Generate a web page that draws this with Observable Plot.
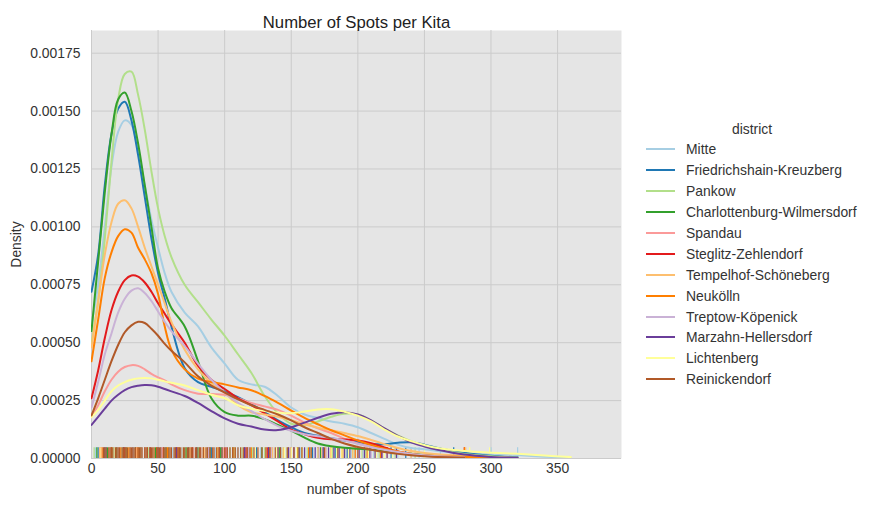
<!DOCTYPE html>
<html><head><meta charset="utf-8">
<script src="https://cdn.jsdelivr.net/npm/d3@7"></script>
<script src="https://cdn.jsdelivr.net/npm/@observablehq/plot@0.6"></script>
<style>
body{margin:0;background:#fff;font-family:"Liberation Sans",Arial,sans-serif;}
#wrap{position:relative;width:869px;height:510px;}
#legend{position:absolute;left:0;top:0;width:869px;height:510px;pointer-events:none;font-size:13.9px;color:#333;}
#legend .t{position:absolute;line-height:20px;white-space:nowrap;}
#legend .s{position:absolute;height:2px;width:29px;}
</style></head><body>
<div id="wrap"><div id="chart"></div><div id="legend"></div></div>
<script>
const districts = ["Mitte","Friedrichshain-Kreuzberg","Pankow","Charlottenburg-Wilmersdorf","Spandau","Steglitz-Zehlendorf","Tempelhof-Schöneberg","Neukölln","Treptow-Köpenick","Marzahn-Hellersdorf","Lichtenberg","Reinickendorf"];
const palette = ["#a6cee3","#1f78b4","#b2df8a","#33a02c","#fb9a99","#e31a1c","#fdbf6f","#ff7f00","#cab2d6","#6a3d9a","#ffff99","#b15928"];

// number of spots (x positions where density was read)
const grid = [0,5,10,15,20,25,30,35,40,45,50,55,60,70,80,90,100,110,120,130,140,150,160,170,180,190,200,210,220,230,240,250,260,280,300,320,340,360,380];

// density values, in units of 1e-5
const mitte = [58,75,100,126,141,146,144,133,118,103,91,80,72, 63,57,48,41,34,32,31,27,22,19,17.5,16,15,13.5,11,8.5,6,4.5,4,3.2, 2.2,2,1.5,0.8,0.3,null];
const friedrichshain = [72,88,118,140,151,154,146,131,113,95,80,69,57, 39,33,31,29,26.5,23.5,20,16.5,13.5,11,9.8,8.8,7.8,7,6.3,6.2,6.8,7,6,4.5, 2.5,1.2,0.5,null,null,null];
const pankow = [50,68,95,128,155,166,167,157,142,124,108,96,87, 75,67.5,60,53,45,37,27,19.5,15,14.5,16,18,19.3,19,16.5,13,10,7.5,5.5,4, 2,1,0.4,null,null,null];
const charlottenburg = [55,85,115,140,155,158,150,136,118,100,82,72,65, 57,42,26,20,18.5,18.5,17,14.5,12,9,6.5,5.3,4.6,4.2,3.8,3.2,2.6,2,1.5,1.1, 0.6,0.3,null,null,null,null];
const spandau = [18,23,29,34,37.5,39.5,40.3,40,38.5,36.5,35,33.7,32, 29.5,28,27.8,27.5,26,24,22.5,21,18.5,15.5,13,11,8.5,6.5,5,3.8,2.8,2,1.4,1, 0.4,null,null,null,null,null];
const steglitz = [26,38,52,64,72,77,79,78.5,76,72,67,62.5,58, 50,40,34,30,26,23,19.5,16,12.5,10.5,9,8.3,8.2,7.8,6.6,4.8,3,2,1.3,0.9, 0.4,null,null,null,null,null];
const tempelhof = [48,68,88,102,110,111.5,108,100,91,83,75,67,59, 47,38.5,32.5,28.5,23,20,19,18,16.5,14.8,13.3,12.2,11,9.7,8,6.2,4.5,3.2,2.4,1.8, 1.2,0.6,0.2,null,null,null];
const neukoelln = [42,60,78,89,96,99,97.5,91,86,80,71,57,47, 38.5,34.5,33,32,30.7,29.5,27,24,20.7,17.5,14.8,12.2,10,7.8,5.8,4.2,3,2,1.4,1, 0.8,0.3,null,null,null,null];
const treptow = [22,33,45,54,63,69,72.5,73.5,71.5,68,63.5,59,55, 48.5,41,34,28.5,24,20.5,17,14,12,10.5,9.6,8.8,7.8,6.3,5,3.8,2.8,2,1.4,1, 0.4,null,null,null,null,null];
const marzahn = [14.5,18,21.5,25,27.5,29.5,30.8,31.4,31.7,31.6,31,30,29, 27,24,20.5,17.3,15,13.8,12.5,12.3,13.5,15.5,17.6,19.3,20,19,16.5,13,9.8,7,5.2,3.8, 1.7,0.7,0.3,null,null,null];
const lichtenberg = [17.8,21,25,29,31.5,33,34,34.6,34.8,34.6,34,33.3,32.7, 31.5,29.5,27.5,26,23,21.5,20.5,19.8,19.5,20.3,21.2,21.3,20.2,18.5,16,12.5,9.5,7.5,5.8,4.5, 3.2,2.5,2,1.3,0.6,null];
const reinickendorf = [18.6,26,34,42,49,54.5,57.5,59,58.5,56,53,49.5,46.5, 41.5,35.5,31.5,28.5,25.5,23,21,19,16.5,13.5,11,8.5,6.5,5,3.8,2.8,2,1.4,1,0.7, 0.3,null,null,null,null,null];
const series = [mitte,friedrichshain,pankow,charlottenburg,spandau,steglitz,tempelhof,neukoelln,treptow,marzahn,lichtenberg,reinickendorf];

// rug: observed spots per kita
const rugMitte = [3,6,14,22,28,35,42,47,55,61,68,75,84,93,102,110,119,127,136,141,145,152,157,160,168,172,176,185,190,195,204,212,220,230,240,246,250,262,300,320];
const rugFriedrichshain = [5,11,17,24,31,37,44,52,58,66,73,81,90,98,107,115,124,133,142,150,158,166,174,183,192,203,214,225,236,272];
const rugPankow = [2,9,16,23,29,36,43,50,57,64,71,79,87,96,104,113,121,130,139,144,147,156,162,164,172,178,181,189,197,206,216,228,243];
const rugCharlottenburg = [4,12,19,26,33,40,48,56,63,71,80,89,97,106,117,128,141,155,172,190];
const rugSpandau = [8,18,29,40,53,66,82,99,117,135,154,176,198,222];
const rugSteglitz = [7,15,25,34,44,54,64,76,88,101,116,132,150,170,193,218,280];
const rugTempelhof = [6,13,21,27,34,41,49,57,66,75,85,95,106,118,131,136,144,150,158,165,173,180,189,196,205,213,222,240,281];
const rugNeukoelln = [8,15,22,28,35,42,49,57,65,74,84,95,107,120,134,140,148,155,163,170,180,188,198,207,217,280];
const rugTreptow = [9,20,31,41,52,63,75,88,102,118,135,152,171,190,210];
const rugMarzahn = [10,24,37,50,64,79,96,115,133,140,148,152,156,160,164,168,170,174,178,182,186,190,194,197,201,205,209,213,218,222,229];
const rugLichtenberg = [7,17,27,37,47,58,69,81,94,108,123,139,145,150,154,158,165,170,175,180,184,188,193,197,203,208,214,220,226,250,284,299];
const rugReinickendorf = [9,10,11,13,14,15,16,18,19,20,21,23,24,25,26,27,29,30,31,32,33,35,36,37,38,40,41,42,44,45,46,47,49,50,51,52,54,55,56,58,59,60,62,63,65,66,67,69,70,72,73,75,76,78,79,81,82,84,86,87,89,91,92,94,96,98,100,102,104,106,108,110,112,114,117,119,122,125,128,131,134,138,142,147,152,158,165,175,185,200];
const rugs = [rugMitte,rugFriedrichshain,rugPankow,rugCharlottenburg,rugSpandau,rugSteglitz,rugTempelhof,rugNeukoelln,rugTreptow,rugMarzahn,rugLichtenberg,rugReinickendorf];

const xTicks = [0,50,100,150,200,250,300,350];
const yTicks = [0,0.00025,0.0005,0.00075,0.001,0.00125,0.0015,0.00175];
const xDomain = [0,398];
const yDomain = [0,0.001848];

const kde = districts.flatMap((name,i) => grid.map((x,j) => ({district:name, x, y: series[i][j] == null ? NaN : series[i][j]*1e-5})));
const rug = districts.flatMap((name,i) => rugs[i].map(x => ({district:name, x})));
const rugTop = yDomain[1]*0.025;

const chart = Plot.plot({
  width: 869, height: 510,
  marginLeft: 91, marginRight: 248, marginTop: 30, marginBottom: 52,
  style: {fontFamily: '"Liberation Sans", Arial, sans-serif', fontSize: "13.9px", color: "#333", background: "#fff", overflow: "visible"},
  x: {domain: xDomain},
  y: {domain: yDomain},
  color: {domain: districts, range: palette},
  marks: [
    Plot.frame({fill: "#e5e5e5", stroke: null}),
    Plot.gridX(xTicks, {stroke: "#cbcbcb", strokeOpacity: 1, strokeWidth: 1}),
    Plot.gridY(yTicks, {stroke: "#cbcbcb", strokeOpacity: 1, strokeWidth: 1}),
    Plot.axisX(xTicks, {tickSize: 0, tickPadding: 5, label: null, fontSize: 13.9}),
    Plot.axisY(yTicks, {tickSize: 0, tickPadding: 11, tickFormat: d3.format(".5f"), label: null, fontSize: 13.9}),
    Plot.ruleX(rug, {x: "x", y1: 0, y2: rugTop, stroke: "district", strokeWidth: 1.2}),
    Plot.line(kde, {x: "x", y: "y", z: "district", stroke: "district", strokeWidth: 2, curve: "catmull-rom", clip: true}),
    Plot.text(["Number of Spots per Kita"], {text: d => d, frameAnchor: "top", dy: -14, fontSize: 16.7, fill: "#222"}),
    Plot.text(["Density"], {text: d => d, frameAnchor: "left", dx: -75, rotate: -90, textAnchor: "middle", fontSize: 13.9, fill: "#333"}),
    Plot.text(["number of spots"], {text: d => d, frameAnchor: "bottom", dy: 35, textAnchor: "middle", fontSize: 13.9, fill: "#333"})
  ]
});
document.getElementById("chart").appendChild(chart);

// legend
const lg = document.getElementById("legend");
const title = document.createElement("div");
title.className = "t"; title.textContent = "district";
title.style.left = "722px"; title.style.top = (129-10) + "px"; title.style.width = "60px"; title.style.textAlign = "center";
lg.appendChild(title);
districts.forEach((name,i) => {
  const cy = 149.3 + 20.9*i;
  const s = document.createElement("div");
  s.className = "s"; s.style.left = "646px"; s.style.top = (cy-1) + "px"; s.style.background = palette[i];
  lg.appendChild(s);
  const t = document.createElement("div");
  t.className = "t"; t.textContent = name; t.style.left = "686px"; t.style.top = (cy-10) + "px";
  lg.appendChild(t);
});
</script>
</body></html>
